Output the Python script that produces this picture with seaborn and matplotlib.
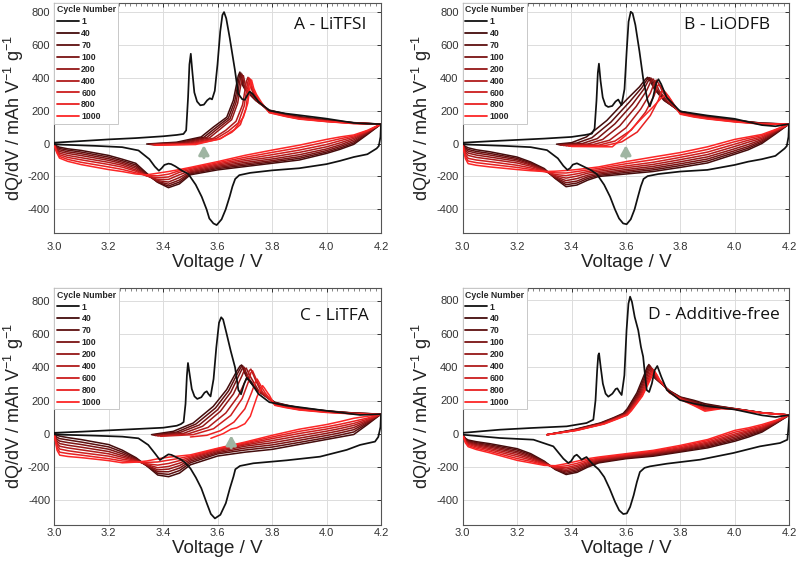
import matplotlib
matplotlib.use("Agg")
import matplotlib.pyplot as plt
import seaborn as sns
import pandas as pd
from matplotlib.ticker import MultipleLocator

sns.set_theme(style="white")
plt.rcParams["font.family"] = ["Liberation Sans", "DejaVu Sans"]
plt.rcParams["mathtext.fontset"] = "custom"
plt.rcParams["mathtext.rm"] = "Liberation Sans"
plt.rcParams["mathtext.it"] = "Liberation Sans:italic"
plt.rcParams["mathtext.bf"] = "Liberation Sans:bold"

# ---------------- data ----------------
cycles = [1, 40, 70, 100, 200, 400, 600, 800, 1000]
cycle_colors = ["#111111", "#430c0c", "#5e0f0f", "#7a1313", "#941717",
                "#b01b1b", "#cc1e1e", "#e82121", "#fc2626"]
panel_titles = ["A - LiTFSI", "B - LiODFB", "C - LiTFA", "D - Additive-free"]
x_ticks = [3.0, 3.2, 3.4, 3.6, 3.8, 4.0, 4.2]
y_ticks = [-400, -200, 0, 200, 400, 600, 800]
arrow_v = [3.55, 3.60, 3.65, None]

# shared voltage grid for aged discharge branches (4.2 V -> 3.0 V)
dis_v = [4.2, 4.15, 4.1, 4.05, 4.0, 3.9, 3.8, 3.7, 3.6, 3.5, 3.46, 3.42,
         3.38, 3.34, 3.3, 3.25, 3.2, 3.1, 3.05, 3.02, 3.01, 3.0]

# ---- Panel A : LiTFSI ----
A1_chg_v = [3.0, 3.1, 3.2, 3.3, 3.4, 3.45, 3.475, 3.485, 3.492, 3.497, 3.502, 3.508, 3.515,
            3.525, 3.537, 3.55, 3.562, 3.572, 3.58, 3.59, 3.60, 3.61, 3.618, 3.624, 3.632,
            3.645, 3.664, 3.676, 3.69, 3.70, 3.71, 3.718, 3.73, 3.75, 3.79, 3.85, 3.9, 4.0,
            4.1, 4.15, 4.2]
A1_chg_q = [5, 15, 25, 33, 44, 52, 58, 80, 280, 480, 545, 430, 310, 255, 232, 236, 262, 275,
            268, 320, 480, 680, 780, 798, 760, 640, 445, 303, 270, 265, 295, 315, 300, 255,
            200, 182, 172, 151, 125, 120, 118]
A1_dis_v = [4.2, 4.198, 4.192, 4.184, 4.15, 4.1, 4.05, 4.0, 3.9, 3.8, 3.72, 3.68, 3.665,
            3.655, 3.645, 3.63, 3.615, 3.597, 3.585, 3.57, 3.56, 3.542, 3.52, 3.493, 3.47,
            3.445, 3.43, 3.42, 3.405, 3.395, 3.385, 3.37, 3.35, 3.31, 3.25, 3.15, 3.0]
A1_dis_q = [118, 40, -15, -30, -65, -82, -105, -125, -150, -163, -178, -192, -215, -260,
            -320, -400, -460, -495, -485, -455, -400, -323, -250, -185, -165, -138, -125,
            -122, -130, -150, -165, -140, -95, -42, -22, -14, -5]
A_chg_v = [
    [3.34, 3.45, 3.54, 3.585, 3.634, 3.658, 3.676, 3.682, 3.690, 3.702, 3.74],
    [3.345, 3.46, 3.55, 3.593, 3.64, 3.663, 3.680, 3.686, 3.694, 3.705, 3.742],
    [3.35, 3.47, 3.56, 3.60, 3.646, 3.668, 3.684, 3.690, 3.698, 3.708, 3.744],
    [3.355, 3.48, 3.57, 3.608, 3.652, 3.674, 3.689, 3.695, 3.703, 3.712, 3.746],
    [3.36, 3.49, 3.585, 3.63, 3.668, 3.692, 3.706, 3.712, 3.72, 3.73, 3.752],
    [3.365, 3.50, 3.595, 3.64, 3.676, 3.698, 3.711, 3.716, 3.724, 3.734, 3.755],
    [3.37, 3.51, 3.605, 3.652, 3.684, 3.705, 3.715, 3.720, 3.728, 3.738, 3.758],
    [3.375, 3.52, 3.612, 3.662, 3.695, 3.711, 3.719, 3.725, 3.733, 3.743, 3.762]]
A_chg_q = [
    [-3, 8, 40, 100, 160, 262, 410, 434, 360, 325, 262],
    [-4, 6, 38, 95, 155, 255, 405, 428, 355, 322, 260],
    [-5, 4, 36, 90, 150, 250, 398, 421, 350, 325, 258],
    [-6, 2, 34, 85, 145, 245, 390, 412, 348, 332, 256],
    [-7, 0, 32, 80, 135, 235, 378, 402, 350, 310, 255],
    [-8, -2, 30, 75, 125, 228, 372, 398, 345, 305, 252],
    [-9, -4, 26, 68, 115, 215, 365, 392, 340, 300, 250],
    [-10, -6, 30, 85, 160, 245, 340, 386, 335, 298, 248]]
A_tail_v = [3.79, 3.85, 3.9, 4.0, 4.1, 4.2]
A_tail_q = [[203, 180, 163, 143, 127, 118], [201, 178, 161, 142, 126, 118],
            [199, 176, 159, 140, 125, 118], [197, 174, 157, 139, 124, 118],
            [194, 171, 155, 137, 124, 118], [192, 168, 152, 135, 123, 118],
            [189, 166, 150, 134, 122, 118], [187, 164, 148, 133, 121, 118]]
A_dis_q = [
    [118, 55, -5, -35, -60, -100, -120, -140, -160, -190, -245, -268, -235, -180, -120, -95, -72, -42, -32, -22, -15, -5],
    [118, 60, 3, -27, -52, -90, -112, -132, -152, -184, -234, -258, -234, -186, -130, -104, -82, -52, -40, -30, -20, -5],
    [118, 64, 12, -18, -43, -80, -104, -124, -145, -178, -222, -247, -230, -190, -140, -113, -92, -62, -50, -38, -26, -5],
    [118, 68, 22, -8, -33, -68, -94, -115, -138, -172, -207, -234, -225, -193, -150, -122, -102, -73, -60, -48, -32, -5],
    [118, 71, 31, 4, -20, -54, -82, -105, -131, -165, -190, -218, -218, -196, -160, -132, -114, -86, -72, -58, -38, -5],
    [118, 74, 39, 17, -6, -40, -68, -95, -124, -158, -175, -203, -208, -197, -168, -143, -127, -99, -84, -68, -44, -5],
    [118, 77, 46, 29, 10, -25, -54, -84, -117, -151, -165, -186, -196, -194, -178, -157, -142, -114, -96, -78, -50, -5],
    [118, 80, 52, 40, 25, -10, -40, -72, -110, -145, -158, -170, -180, -190, -185, -170, -158, -128, -108, -88, -55, -5]]

# ---- Panel B : LiODFB ----
B1_chg_v = [3.0, 3.1, 3.2, 3.3, 3.4, 3.45, 3.475, 3.485, 3.492, 3.497, 3.501, 3.507, 3.515,
            3.525, 3.535, 3.55, 3.562, 3.572, 3.584, 3.595, 3.603, 3.61, 3.618, 3.625, 3.635,
            3.65, 3.665, 3.68, 3.688, 3.70, 3.712, 3.72, 3.73, 3.75, 3.8, 3.9, 4.0, 4.1, 4.15, 4.2]
B1_chg_q = [5, 14, 22, 30, 40, 52, 60, 90, 260, 430, 485, 380, 280, 232, 222, 228, 255, 267,
            233, 330, 560, 740, 800, 790, 720, 560, 380, 260, 225, 280, 370, 390, 360, 280,
            195, 170, 150, 112, 105, 118]
B1_dis_v = [4.2, 4.198, 4.192, 4.184, 4.15, 4.1, 4.05, 4.0, 3.9, 3.8, 3.72, 3.68, 3.665,
            3.655, 3.645, 3.632, 3.618, 3.603, 3.59, 3.575, 3.56, 3.542, 3.52, 3.493, 3.47,
            3.445, 3.43, 3.42, 3.405, 3.395, 3.385, 3.37, 3.35, 3.31, 3.25, 3.15, 3.0]
B1_dis_q = [118, 40, -15, -30, -75, -95, -110, -130, -160, -170, -185, -198, -215, -260,
            -320, -400, -460, -490, -485, -455, -400, -323, -250, -185, -160, -140, -128,
            -120, -128, -150, -160, -135, -90, -40, -22, -14, -5]
B_chg_v = [
    [3.345, 3.40, 3.455, 3.53, 3.60, 3.65, 3.672, 3.680, 3.690, 3.705, 3.74],
    [3.35, 3.42, 3.475, 3.545, 3.612, 3.658, 3.678, 3.686, 3.696, 3.71, 3.745],
    [3.355, 3.44, 3.495, 3.56, 3.624, 3.666, 3.684, 3.692, 3.702, 3.715, 3.75],
    [3.36, 3.46, 3.515, 3.578, 3.638, 3.676, 3.692, 3.700, 3.71, 3.722, 3.755],
    [3.37, 3.48, 3.54, 3.60, 3.655, 3.69, 3.704, 3.712, 3.722, 3.735, 3.762],
    [3.38, 3.50, 3.56, 3.62, 3.672, 3.704, 3.715, 3.722, 3.732, 3.745, 3.768],
    [3.39, 3.52, 3.585, 3.642, 3.69, 3.72, 3.73, 3.736, 3.746, 3.758, 3.775],
    [3.40, 3.55, 3.60, 3.651, 3.70, 3.728, 3.742, 3.750, 3.757, 3.766, 3.778]]
B_chg_q = [
    [-4, 5, 40, 140, 262, 344, 390, 402, 378, 330, 262],
    [-6, 3, 35, 130, 250, 338, 388, 400, 375, 328, 258],
    [-8, 0, 30, 120, 238, 330, 385, 398, 372, 325, 255],
    [-10, -3, 25, 108, 225, 320, 378, 392, 368, 322, 252],
    [-12, -6, 20, 95, 210, 305, 365, 385, 360, 315, 250],
    [-14, -10, 15, 82, 190, 290, 345, 360, 340, 305, 246],
    [-16, -14, 10, 70, 170, 265, 312, 325, 310, 285, 242],
    [-18, -20, 50, 140, 222, 272, 288, 292, 282, 262, 232]]
B_tail_v = [3.80, 3.85, 3.9, 4.0, 4.1, 4.2]
B_tail_q = [[196, 178, 164, 142, 124, 118], [194, 176, 162, 141, 123, 118],
            [192, 174, 160, 139, 122, 118], [190, 172, 158, 138, 122, 118],
            [187, 169, 156, 136, 121, 118], [184, 166, 153, 134, 120, 118],
            [181, 164, 151, 133, 119, 118], [178, 161, 149, 131, 118, 118]]
B_dis_q = [
    [118, 58, 0, -38, -65, -118, -145, -170, -185, -200, -222, -252, -262, -212, -152, -112, -82, -50, -38, -26, -18, -5],
    [118, 63, 8, -28, -55, -106, -134, -160, -176, -193, -212, -240, -250, -210, -156, -118, -90, -60, -48, -36, -26, -5],
    [118, 67, 16, -18, -44, -94, -123, -150, -167, -186, -202, -228, -238, -206, -160, -124, -98, -70, -58, -46, -34, -5],
    [118, 71, 24, -6, -32, -81, -111, -139, -158, -178, -192, -213, -225, -201, -162, -130, -107, -82, -70, -58, -44, -5],
    [118, 75, 32, 8, -18, -67, -98, -127, -147, -169, -180, -198, -210, -195, -165, -138, -118, -95, -84, -72, -55, -5],
    [118, 78, 40, 20, -4, -52, -84, -114, -136, -160, -170, -184, -195, -188, -168, -148, -132, -110, -100, -90, -68, -5],
    [118, 82, 48, 31, 11, -36, -70, -98, -123, -151, -160, -170, -179, -178, -170, -157, -145, -126, -116, -106, -80, -5],
    [118, 85, 55, 40, 25, -20, -55, -82, -110, -142, -150, -158, -164, -168, -170, -165, -158, -142, -132, -122, -92, -5]]

# ---- Panel C : LiTFA ----
C1_chg_v = [3.0, 3.1, 3.2, 3.3, 3.4, 3.45, 3.465, 3.475, 3.482, 3.487, 3.491, 3.497, 3.505,
            3.515, 3.525, 3.54, 3.552, 3.56, 3.566, 3.574, 3.585, 3.595, 3.605, 3.613, 3.62,
            3.632, 3.648, 3.664, 3.676, 3.686, 3.697, 3.707, 3.72, 3.75, 3.79, 3.85, 3.9,
            3.976, 4.05, 4.123, 4.2]
C1_chg_q = [5, 12, 20, 28, 36, 48, 58, 70, 180, 350, 427, 360, 270, 225, 210, 220, 248, 256,
            240, 225, 330, 520, 670, 703, 690, 610, 500, 400, 264, 238, 300, 338, 315, 240,
            190, 170, 160, 143, 128, 113, 118]
C1_dis_v = [4.2, 4.198, 4.19, 4.178, 4.123, 4.074, 3.976, 3.854, 3.731, 3.682, 3.665, 3.658,
            3.645, 3.63, 3.61, 3.59, 3.575, 3.56, 3.54, 3.52, 3.50, 3.48, 3.468, 3.445, 3.43,
            3.419, 3.405, 3.388, 3.37, 3.345, 3.309, 3.25, 3.15, 3.0]
C1_dis_q = [118, 40, -20, -48, -68, -98, -139, -161, -179, -195, -215, -260, -330, -420,
            -490, -512, -485, -420, -330, -265, -210, -175, -159, -140, -128, -125, -140,
            -159, -120, -68, -28, -18, -12, -5]
C_chg_v = [
    [3.357, 3.437, 3.51, 3.584, 3.633, 3.67, 3.682, 3.688, 3.697, 3.71, 3.745],
    [3.362, 3.45, 3.52, 3.592, 3.64, 3.675, 3.686, 3.692, 3.70, 3.712, 3.747],
    [3.367, 3.46, 3.532, 3.60, 3.648, 3.681, 3.691, 3.697, 3.705, 3.716, 3.749],
    [3.372, 3.475, 3.545, 3.61, 3.658, 3.69, 3.699, 3.705, 3.713, 3.722, 3.752],
    [3.38, 3.49, 3.565, 3.63, 3.676, 3.708, 3.716, 3.722, 3.730, 3.740, 3.76],
    [3.39, 3.51, 3.585, 3.648, 3.69, 3.715, 3.722, 3.728, 3.736, 3.746, 3.765],
    [3.50, 3.56, 3.61, 3.66, 3.70, 3.725, 3.738, 3.745, 3.752, 3.762, 3.775],
    [3.575, 3.62, 3.65, 3.67, 3.70, 3.72, 3.745, 3.765, 3.772, 3.78, 3.79]]
C_chg_q = [
    [-6, 14, 64, 165, 266, 377, 408, 415, 375, 330, 262],
    [-8, 10, 58, 155, 258, 370, 402, 410, 370, 328, 260],
    [-10, 6, 52, 145, 250, 362, 395, 402, 368, 330, 258],
    [-12, 2, 45, 135, 240, 352, 388, 396, 368, 340, 255],
    [-14, -2, 38, 125, 228, 340, 380, 390, 360, 320, 252],
    [-16, -6, 30, 110, 212, 322, 368, 380, 350, 312, 250],
    [-20, -10, 18, 70, 150, 250, 310, 330, 310, 280, 245],
    [-28, 0, 28, 35, 60, 105, 225, 290, 275, 255, 232]]
C_tail_v = [3.81, 3.85, 3.9, 4.0, 4.1, 4.2]
C_tail_q = [[190, 174, 157, 138, 125, 118], [188, 172, 155, 137, 124, 118],
            [186, 170, 153, 136, 124, 118], [183, 168, 151, 134, 123, 118],
            [180, 165, 149, 132, 122, 118], [177, 162, 147, 131, 121, 118],
            [174, 160, 145, 130, 120, 118], [171, 157, 143, 128, 119, 118]]
C_dis_q = [
    [118, 55, -5, -20, -35, -65, -95, -112, -135, -188, -238, -260, -250, -195, -145, -100, -66, -36, -24, -15, -10, -5],
    [118, 62, 10, -8, -24, -53, -81, -99, -122, -176, -223, -246, -240, -194, -150, -111, -80, -51, -38, -30, -22, -5],
    [118, 68, 24, 5, -11, -40, -68, -87, -115, -166, -208, -230, -230, -193, -155, -122, -94, -66, -54, -45, -34, -5],
    [118, 74, 37, 18, 2, -27, -55, -76, -108, -157, -193, -214, -219, -191, -159, -133, -108, -82, -70, -60, -46, -5],
    [118, 80, 50, 31, 15, -13, -42, -68, -101, -149, -178, -198, -206, -187, -163, -143, -122, -98, -86, -76, -58, -5],
    [118, 87, 62, 44, 28, 1, -30, -62, -96, -142, -163, -180, -190, -182, -167, -154, -136, -115, -103, -93, -70, -5],
    [118, 94, 75, 57, 41, 14, -20, -56, -91, -135, -149, -160, -171, -174, -170, -165, -151, -130, -120, -112, -85, -5],
    [118, 105, 93, 73, 55, 27, -10, -51, -88, -128, -135, -142, -152, -165, -172, -176, -163, -145, -138, -130, -100, -5]]

# ---- Panel D : Additive-free ----
D1_chg_v = [3.0, 3.137, 3.25, 3.382, 3.455, 3.48, 3.488, 3.494, 3.498, 3.501, 3.507, 3.515,
            3.525, 3.535, 3.55, 3.562, 3.568, 3.576, 3.584, 3.594, 3.602, 3.609, 3.615, 3.622,
            3.632, 3.645, 3.655, 3.663, 3.67, 3.676, 3.685, 3.695, 3.705, 3.715, 3.73, 3.75,
            3.798, 3.85, 3.9, 4.0, 4.1, 4.15, 4.2]
D1_chg_q = [5, 24, 34, 44, 64, 84, 200, 380, 470, 482, 400, 300, 240, 222, 240, 268, 272,
            250, 232, 350, 620, 780, 822, 790, 700, 620, 520, 462, 350, 262, 250, 300, 380,
            406, 340, 262, 202, 180, 165, 145, 110, 100, 112]
D1_dis_v = [4.2, 4.197, 4.193, 4.166, 4.092, 3.994, 3.872, 3.75, 3.688, 3.668, 3.651, 3.64,
            3.628, 3.615, 3.603, 3.59, 3.575, 3.56, 3.54, 3.52, 3.50, 3.48, 3.465, 3.455,
            3.445, 3.437, 3.428, 3.419, 3.41, 3.398, 3.388, 3.37, 3.333, 3.26, 3.137, 3.0]
D1_dis_q = [112, 40, -36, -56, -76, -116, -156, -180, -196, -205, -230, -290, -370, -440,
            -478, -482, -460, -410, -330, -260, -215, -186, -160, -140, -148, -156, -140,
            -126, -135, -165, -176, -150, -76, -36, -26, -6]
D_chg_v = [
    [3.31, 3.407, 3.505, 3.553, 3.59, 3.605, 3.64, 3.665, 3.678, 3.684, 3.692, 3.705, 3.73],
    [3.31, 3.41, 3.508, 3.556, 3.593, 3.608, 3.643, 3.668, 3.681, 3.687, 3.695, 3.708, 3.732],
    [3.31, 3.412, 3.51, 3.558, 3.595, 3.61, 3.646, 3.671, 3.684, 3.690, 3.698, 3.71, 3.733],
    [3.31, 3.414, 3.512, 3.56, 3.597, 3.612, 3.649, 3.674, 3.687, 3.693, 3.701, 3.713, 3.735],
    [3.31, 3.416, 3.514, 3.562, 3.599, 3.614, 3.652, 3.677, 3.691, 3.697, 3.705, 3.716, 3.736],
    [3.31, 3.417, 3.516, 3.564, 3.601, 3.616, 3.655, 3.680, 3.694, 3.700, 3.708, 3.719, 3.737],
    [3.31, 3.418, 3.518, 3.566, 3.603, 3.618, 3.658, 3.683, 3.697, 3.703, 3.711, 3.722, 3.738],
    [3.31, 3.42, 3.52, 3.568, 3.605, 3.62, 3.66, 3.685, 3.70, 3.706, 3.714, 3.725, 3.74]]
D_chg_q = [
    [-6, 24, 64, 95, 122, 150, 245, 345, 400, 415, 385, 335, 300],
    [-6, 23, 63, 94, 120, 148, 240, 340, 396, 410, 382, 333, 298],
    [-6, 22, 62, 93, 119, 146, 236, 335, 390, 403, 378, 330, 297],
    [-6, 22, 61, 92, 118, 144, 233, 330, 384, 396, 372, 328, 296],
    [-6, 21, 60, 91, 116, 142, 230, 324, 378, 390, 366, 326, 295],
    [-6, 21, 59, 90, 115, 141, 228, 318, 372, 384, 360, 324, 294],
    [-6, 20, 59, 89, 113, 140, 226, 314, 366, 378, 356, 322, 293],
    [-6, 20, 58, 88, 112, 138, 225, 310, 360, 372, 352, 320, 292]]
D_tail_v = [3.76, 3.80, 3.85, 3.89, 3.95, 4.0, 4.1, 4.2]
D_tail_q = [[258, 220, 200, 180, 163, 150, 126, 112], [256, 218, 195, 173, 161, 150, 126, 112],
            [255, 216, 190, 166, 160, 149, 126, 112], [253, 214, 186, 160, 158, 149, 125, 112],
            [251, 212, 181, 153, 156, 148, 125, 112], [249, 210, 177, 147, 154, 147, 125, 112],
            [247, 208, 172, 141, 152, 147, 124, 112], [245, 205, 168, 135, 150, 146, 124, 112]]
D_dis_q = [
    [112, 60, 10, -20, -45, -85, -110, -135, -150, -175, -200, -232, -245, -215, -165, -120, -90, -60, -48, -38, -28, -5],
    [112, 63, 16, -12, -37, -78, -105, -130, -146, -170, -194, -224, -238, -213, -169, -127, -98, -67, -54, -43, -32, -5],
    [112, 65, 22, -4, -29, -71, -100, -125, -142, -166, -188, -216, -230, -211, -172, -134, -107, -74, -60, -48, -35, -5],
    [112, 68, 28, 4, -20, -64, -95, -120, -138, -161, -181, -207, -222, -208, -175, -141, -116, -81, -66, -53, -38, -5],
    [112, 71, 34, 12, -11, -57, -90, -115, -134, -156, -174, -198, -213, -205, -178, -149, -126, -89, -72, -58, -42, -5],
    [112, 74, 40, 19, -2, -50, -84, -110, -130, -151, -167, -189, -204, -202, -182, -157, -137, -97, -79, -64, -46, -5],
    [112, 77, 47, 27, 9, -42, -77, -105, -125, -146, -159, -178, -193, -198, -186, -166, -149, -106, -87, -71, -50, -5],
    [112, 80, 55, 35, 20, -35, -70, -100, -120, -140, -150, -165, -180, -192, -190, -175, -160, -115, -95, -78, -55, -5]]

panel_data = [
    (A1_chg_v, A1_chg_q, A1_dis_v, A1_dis_q, A_chg_v, A_chg_q, A_tail_v, A_tail_q, A_dis_q),
    (B1_chg_v, B1_chg_q, B1_dis_v, B1_dis_q, B_chg_v, B_chg_q, B_tail_v, B_tail_q, B_dis_q),
    (C1_chg_v, C1_chg_q, C1_dis_v, C1_dis_q, C_chg_v, C_chg_q, C_tail_v, C_tail_q, C_dis_q),
    (D1_chg_v, D1_chg_q, D1_dis_v, D1_dis_q, D_chg_v, D_chg_q, D_tail_v, D_tail_q, D_dis_q),
]

# ---------------- layout ----------------
W, H = 800, 566
fig = plt.figure(figsize=(W / 100, H / 100), dpi=100)
# (left, top, right, bottom) in pixels
boxes = [(54, 2.7, 381, 233.3), (462.7, 2.7, 789, 233.3),
         (54.3, 288, 381, 524.7), (462.7, 288, 789.3, 524.7)]
ylims = [(-545, 855), (-545, 855), (-550, 880), (-546, 874)]
title_pos = [(0.845, 0.905), (0.811, 0.905), (0.856, 0.880), (0.768, 0.886)]
xlabel_y = [-0.088, -0.088, -0.066, -0.066]
xtick_pad = [6, 6, 2.5, 2.5]


def make_frame(vs, qs, cyc):
    return pd.DataFrame({"V": vs, "Q": qs, "cycle": cyc})


for p in range(4):
    l, t, r, b = boxes[p]
    ax = fig.add_axes([l / W, 1 - b / H, (r - l) / W, (b - t) / H])
    (c1v, c1q, d1v, d1q, cv, cq, tv, tq, dq) = panel_data[p]

    # aged cycles (40 ... 1000)
    for i in range(8):
        vs = list(cv[i]) + list(tv) + list(dis_v[1:])
        qs = list(cq[i]) + list(tq[i]) + list(dq[i][1:])
        df = make_frame(vs, qs, cycles[i + 1])
        sns.lineplot(data=df, x="V", y="Q", sort=False, estimator=None,
                     color=cycle_colors[i + 1], lw=1.1, ax=ax, zorder=3 + i * 0.01,
                     label=str(cycles[i + 1]), legend=False)
    # first cycle (black), drawn on top
    vs = list(c1v) + list(d1v[1:])
    qs = list(c1q) + list(d1q[1:])
    sns.lineplot(data=make_frame(vs, qs, 1), x="V", y="Q", sort=False, estimator=None,
                 color=cycle_colors[0], lw=1.25, ax=ax, zorder=4, label="1", legend=False)

    ax.set_xlim(3.0, 4.2)
    ax.set_ylim(*ylims[p])
    ax.set_xticks(x_ticks)
    ax.set_xticklabels([f"{v:.1f}" for v in x_ticks])
    ax.set_yticks(y_ticks)
    ax.set_yticklabels([str(v) for v in y_ticks])
    ax.xaxis.set_minor_locator(MultipleLocator(0.02))
    ax.grid(True, which="major", color="#dcdcdc", lw=0.7)
    ax.set_axisbelow(True)
    ax.tick_params(axis="both", which="major", direction="in", length=3, width=0.7,
                   top=True, right=True, labelsize=8, colors="#333333")
    ax.tick_params(axis="x", which="major", pad=xtick_pad[p])
    ax.tick_params(axis="y", which="major", pad=3)
    ax.tick_params(axis="x", which="minor", direction="in", length=1.8, width=0.5,
                   top=True, bottom=False, colors="#555555")
    for s in ax.spines.values():
        s.set_color("#555555")
        s.set_linewidth(0.8)

    ax.set_xlabel("Voltage / V", fontsize=13.5, color="#222222")
    ax.set_ylabel("dQ/dV / mAh V$^{-1}$ g$^{-1}$", fontsize=13, color="#222222")
    ax.xaxis.set_label_coords(0.5, xlabel_y[p])
    ax.yaxis.set_label_coords(-0.087, 0.5)

    ax.text(title_pos[p][0], title_pos[p][1], panel_titles[p], transform=ax.transAxes,
            ha="center", va="center", fontsize=12.5, family=["Open Sans", "DejaVu Sans"],
            color="#111111")

    if arrow_v[p] is not None:
        ax.annotate("", xy=(arrow_v[p], -10), xytext=(arrow_v[p], -85),
                    arrowprops=dict(arrowstyle="-|>,head_length=0.45,head_width=0.25",
                                    color="#9fb5a2", lw=2.2, shrinkA=0, shrinkB=0),
                    zorder=6)

    hs, ls = ax.get_legend_handles_labels()
    order = [ls.index(str(c)) for c in cycles]
    leg = ax.legend([hs[k] for k in order], [ls[k] for k in order], title="Cycle Number",
                    loc="upper left", bbox_to_anchor=(0.0, 1.0), borderaxespad=0.0,
                    frameon=True, fancybox=False, edgecolor="#c8c8c8", framealpha=1,
                    prop={"weight": "bold", "size": 6.3},
                    title_fontproperties={"weight": "bold", "size": 6.3},
                    handlelength=2.5, handletextpad=0.3, labelspacing=0.33,
                    borderpad=0.3, alignment="left")
    leg.get_frame().set_linewidth(0.7)
    leg.set_zorder(10)
    for line in leg.get_lines():
        line.set_linewidth(1.3)

fig.savefig("out.png", dpi=100)
